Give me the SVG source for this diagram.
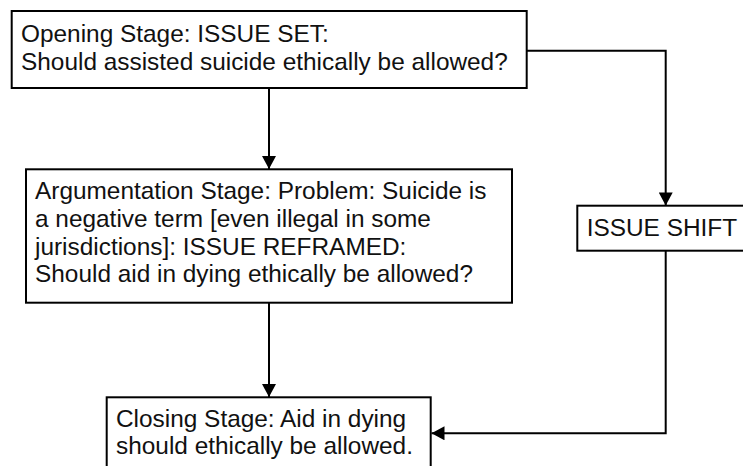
<svg xmlns="http://www.w3.org/2000/svg" width="743" height="466" viewBox="0 0 743 466">
  <defs>
    <marker id="arrow" markerUnits="userSpaceOnUse" markerWidth="14" markerHeight="14" viewBox="0 0 13 14" refX="13" refY="7" orient="auto">
      <path d="M0,0 L13,7 L0,14 Z" fill="#000"/>
    </marker>
    <style>
      .box { fill: #fff; stroke: #000; stroke-width: 2; }
      .lbl { font-family: "Liberation Sans", Arial, sans-serif; font-size: 24.4px; fill: #111; }
      .conn { fill: none; stroke: #000; stroke-width: 2; }
    </style>
  </defs>
  <rect width="743" height="466" fill="#fff"/>
  <g id="connectors">
    <path class="conn" d="M269,88 L269,169" marker-end="url(#arrow)"/>
    <path class="conn" d="M269,303 L269,397" marker-end="url(#arrow)"/>
    <path class="conn" d="M527,50.7 L665.7,50.7 L665.7,205.5" marker-end="url(#arrow)"/>
    <path class="conn" d="M665.7,250.7 L665.7,433.3 L431.5,433.3" marker-end="url(#arrow)"/>
  </g>
  <g id="opening">
    <rect class="box" x="11.7" y="11" width="515" height="77"/>
    <text class="lbl" x="21" y="41.7">Opening Stage: ISSUE SET:</text>
    <text class="lbl" x="21" y="70">Should assisted suicide ethically be allowed?</text>
  </g>
  <g id="argumentation">
    <rect class="box" x="26" y="169.3" width="486" height="133.4"/>
    <text class="lbl" x="35" y="199.3">Argumentation Stage: Problem: Suicide is</text>
    <text class="lbl" x="35" y="227">a negative term [even illegal in some</text>
    <text class="lbl" x="35" y="254.7">jurisdictions]: ISSUE REFRAMED:</text>
    <text class="lbl" x="35" y="282.3">Should aid in dying ethically be allowed?</text>
  </g>
  <g id="issue-shift">
    <rect class="box" x="577.3" y="205.7" width="180" height="45"/>
    <text class="lbl" x="586.7" y="235.5">ISSUE SHIFT</text>
  </g>
  <g id="closing">
    <rect class="box" x="106.7" y="397.3" width="324" height="90"/>
    <text class="lbl" x="116" y="426.7">Closing Stage: Aid in dying</text>
    <text class="lbl" x="116" y="454.3">should ethically be allowed.</text>
  </g>
</svg>
